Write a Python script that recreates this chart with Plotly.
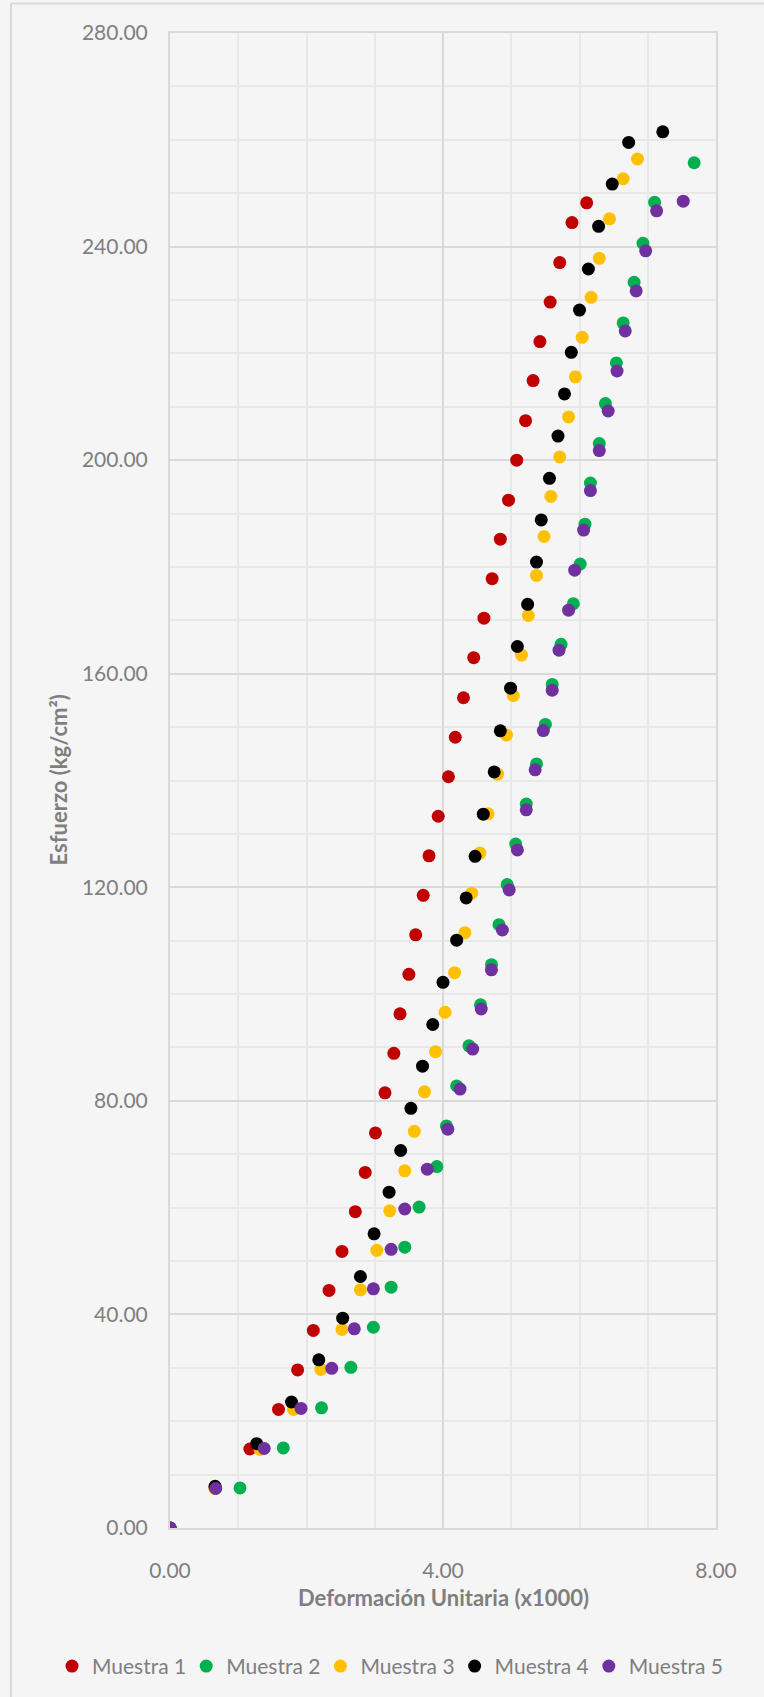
import plotly.graph_objects as go

# Strain (x1000) and stress (kg/cm²) readings for each specimen
m1_x = [0, 0.66, 1.17, 1.59, 1.87, 2.10, 2.33, 2.52, 2.715, 2.86, 3.01, 3.15, 3.28, 3.37, 3.50,
        3.60, 3.71, 3.795, 3.93, 4.08, 4.18, 4.30, 4.45, 4.60, 4.72, 4.84, 4.96, 5.08, 5.21,
        5.32, 5.42, 5.57, 5.71, 5.89, 6.105]
m1_y = [0, 7.5, 14.8, 22.2, 29.6, 37.0, 44.5, 51.8, 59.25, 66.6, 74.0, 81.5, 88.9, 96.3, 103.7,
        111.1, 118.5, 125.9, 133.3, 140.7, 148.1, 155.5, 163.0, 170.4, 177.8, 185.2, 192.5,
        200.0, 207.4, 214.9, 222.2, 229.6, 237.0, 244.5, 248.2]

m2_x = [0, 1.026, 1.66, 2.22, 2.65, 2.98, 3.24, 3.44, 3.65, 3.91, 4.05, 4.20, 4.38, 4.55, 4.71,
        4.82, 4.94, 5.065, 5.22, 5.37, 5.50, 5.60, 5.73, 5.91, 6.01, 6.08, 6.16, 6.29, 6.38,
        6.54, 6.64, 6.80, 6.93, 7.10, 7.68]
m2_y = [0, 7.5, 15.0, 22.5, 30.1, 37.6, 45.1, 52.6, 60.1, 67.7, 75.3, 82.8, 90.3, 98.0, 105.5,
        113.0, 120.5, 128.1, 135.6, 143.1, 150.5, 158.0, 165.5, 173.1, 180.55, 188.0, 195.7,
        203.1, 210.6, 218.2, 225.7, 233.3, 240.6, 248.3, 255.7]

m3_x = [0, 0.66, 1.32, 1.81, 2.21, 2.52, 2.79, 3.03, 3.22, 3.44, 3.58, 3.73, 3.89, 4.03, 4.17,
        4.32, 4.42, 4.54, 4.66, 4.80, 4.93, 5.03, 5.15, 5.25, 5.37, 5.48, 5.58, 5.71, 5.84,
        5.94, 6.04, 6.17, 6.29, 6.44, 6.64, 6.85]
m3_y = [0, 7.4, 14.7, 22.2, 29.7, 37.2, 44.6, 52.0, 59.4, 66.9, 74.3, 81.7, 89.2, 96.6, 104.0,
        111.5, 118.9, 126.4, 133.75, 141.2, 148.5, 155.9, 163.5, 170.9, 178.4, 185.7, 193.2,
        200.6, 208.1, 215.6, 223.0, 230.5, 237.8, 245.2, 252.7, 256.4]

m4_x = [0, 0.66, 1.27, 1.78, 2.18, 2.53, 2.79, 2.99, 3.21, 3.38, 3.53, 3.70, 3.85, 4.00, 4.20,
        4.34, 4.47, 4.59, 4.75, 4.84, 4.99, 5.09, 5.24, 5.37, 5.44, 5.56, 5.685, 5.78, 5.88,
        6.00, 6.13, 6.28, 6.48, 6.72, 7.22]
m4_y = [0, 7.8, 15.8, 23.6, 31.5, 39.3, 47.1, 55.1, 62.9, 70.7, 78.6, 86.5, 94.3, 102.2, 110.1,
        118.0, 125.8, 133.7, 141.6, 149.3, 157.3, 165.1, 173.0, 180.9, 188.8, 196.6, 204.5,
        212.4, 220.2, 228.1, 235.8, 243.8, 251.7, 259.5, 261.5]

m5_x = [0, 0.67, 1.38, 1.92, 2.37, 2.70, 2.98, 3.24, 3.44, 3.77, 4.07, 4.25, 4.435, 4.56, 4.71,
        4.87, 4.97, 5.09, 5.22, 5.35, 5.47, 5.60, 5.70, 5.84, 5.93, 6.06, 6.16, 6.29, 6.42,
        6.55, 6.67, 6.83, 6.97, 7.13, 7.52]
m5_y = [0, 7.4, 14.9, 22.4, 29.9, 37.3, 44.8, 52.2, 59.75, 67.2, 74.7, 82.2, 89.7, 97.2, 104.55,
        112.0, 119.5, 127.0, 134.5, 142.0, 149.35, 156.9, 164.4, 171.9, 179.4, 186.9, 194.3,
        201.8, 209.2, 216.7, 224.2, 231.7, 239.2, 246.7, 248.5]

series_names = ["Muestra 1", "Muestra 2", "Muestra 3", "Muestra 4", "Muestra 5"]
series_colors = ["#C00000", "#00B050", "#FFC000", "#000000", "#7030A0"]
series_data = [(m1_x, m1_y), (m2_x, m2_y), (m3_x, m3_y), (m4_x, m4_y), (m5_x, m5_y)]

x_title = "Deformación Unitaria (x1000)"
y_title = "Esfuerzo (kg/cm²)"

FONT = "Lato"
GREY = "#7f7f7f"
BG = "#f5f5f5"

fig = go.Figure()
for name, color, (xs, ys) in zip(series_names, series_colors, series_data):
    fig.add_trace(go.Scatter(
        x=xs, y=ys, name=name, mode="markers",
        marker=dict(color=color, size=13, line=dict(width=0)),
    ))

W, H = 764, 1697
L, R, T, B = 170, 48, 33, 168.5
pw, ph = W - L - R, H - T - B


def px_to_paper_x(px):
    return (px - L) / pw


def px_to_paper_y(py):
    return 1 - (py - T) / ph


fig.update_layout(
    width=W, height=H,
    margin=dict(l=L, r=R, t=T, b=B, pad=0, autoexpand=False),
    paper_bgcolor=BG, plot_bgcolor=BG,
    font=dict(family=FONT, size=21, color=GREY),
    showlegend=True,
    legend=dict(
        orientation="h", x=px_to_paper_x(57), xanchor="left",
        y=px_to_paper_y(1667), yanchor="middle",
        font=dict(family=FONT, size=21, color=GREY),
        itemwidth=30, indentation=-5,
        bgcolor="rgba(0,0,0,0)", tracegroupgap=0,
    ),
    xaxis=dict(
        range=[0, 8], tick0=0, dtick=4, tickformat=".2f",
        showgrid=True, gridcolor="#d9d9d9", gridwidth=1.5,
        minor=dict(dtick=1, showgrid=True, gridcolor="#e8e8e8", gridwidth=1.5),
        showline=True, linecolor="#d9d9d9", linewidth=2, mirror=True,
        zeroline=False, ticks="", ticklabelstandoff=23,
        tickfont=dict(family=FONT, size=21, color=GREY),
        fixedrange=True,
    ),
    yaxis=dict(
        range=[0, 280], tick0=0, dtick=40, tickformat=".2f",
        showgrid=True, gridcolor="#d9d9d9", gridwidth=1.5,
        minor=dict(dtick=10, showgrid=True, gridcolor="#e8e8e8", gridwidth=1.5),
        showline=True, linecolor="#d9d9d9", linewidth=2, mirror=True,
        zeroline=False, ticks="", ticklabelstandoff=16,
        tickfont=dict(family=FONT, size=21, color=GREY),
        fixedrange=True,
    ),
    annotations=[
        dict(text="<b>" + x_title + "</b>", xref="paper", yref="paper",
             x=px_to_paper_x(443.5), y=px_to_paper_y(1598), xanchor="center", yanchor="middle",
             showarrow=False, font=dict(family=FONT, size=22, color=GREY)),
        dict(text="<b>" + y_title + "</b>", xref="paper", yref="paper",
             x=px_to_paper_x(58), y=0.5, xanchor="center", yanchor="middle",
             textangle=-90, showarrow=False, font=dict(family=FONT, size=22, color=GREY)),
    ],
    shapes=[
        # outer chart frame (left and top edges)
        dict(type="line", xref="paper", yref="paper",
             x0=px_to_paper_x(11), x1=px_to_paper_x(11),
             y0=px_to_paper_y(3.5), y1=px_to_paper_y(H + 5),
             line=dict(color="#d9d9d9", width=2)),
        dict(type="line", xref="paper", yref="paper",
             x0=px_to_paper_x(11), x1=px_to_paper_x(W + 5),
             y0=px_to_paper_y(3.5), y1=px_to_paper_y(3.5),
             line=dict(color="#d9d9d9", width=2)),
    ],
)

fig.write_html("out.html")
